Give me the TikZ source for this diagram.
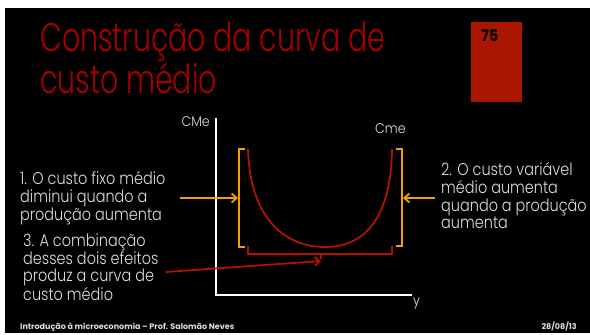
\documentclass[tikz,border=0pt]{standalone}
\usepackage{fontspec}
\usepackage{graphicx}
\setmainfont{Poppins}
\IfFontExistsTF{Poppins Light}{\newfontfamily\thinfont{Poppins Light}}{\newcommand{\thinfont}{}}
\usetikzlibrary{arrows.meta}
\definecolor{titlered}{RGB}{165,0,0}
\definecolor{curvered}{RGB}{178,18,0}
\definecolor{boxred}{RGB}{170,22,0}
\definecolor{bracketorange}{RGB}{240,160,0}
\definecolor{txtgray}{RGB}{222,222,222}
% the slide is squeezed sideways: narrow the text boxes the same way
\newcommand{\squeezed}[2]{\scalebox{#1}[1]{\begin{tabular}[b]{@{}l@{}}#2\end{tabular}}}
\tikzset{
  note/.style={text=txtgray, font=\thinfont\fontsize{17}{17}\selectfont, anchor=base west, inner sep=0pt},
  axislabel/.style={text=txtgray, font=\thinfont\fontsize{14}{15}\selectfont, inner sep=0pt},
  orangearrow/.style={bracketorange, line width=1.8pt, -{Straight Barb[length=5pt,width=9pt]}},
  redarrow/.style={curvered, line width=1.8pt, -{Straight Barb[length=5pt,width=9pt]}},
  footer/.style={text=txtgray, font=\fontsize{8}{9}\selectfont\bfseries, anchor=base west, inner sep=0pt}
}
\begin{document}
\begin{tikzpicture}[x=1pt,y=-1pt]
\useasboundingbox (0,0) rectangle (590,335);
\fill[white] (0,0) rectangle (590,335);
\fill[black] (5,8) rectangle (590,333); %slide
\fill[boxred] (471,22) rectangle (522,102); %page box
\node[font=\fontsize{16}{18}\selectfont\bfseries, inner sep=0pt] (page) at (490,36) {\scalebox{0.9}[1]{75}};
\node[text=titlered, font=\thinfont\fontsize{40}{35}\selectfont, anchor=base west, inner sep=0pt] (title) at (40,93) {\squeezed{0.71}{Construção da curva de\\custo médio}};
% axes
\draw[white, line width=1.8pt] (216,118) -- (216,295) -- (412,295);
\node[axislabel, anchor=base east] (cme) at (210,126) {\scalebox{0.9}[1]{CMe}};
\node[axislabel, anchor=base west] (cmelabel) at (375,133) {\scalebox{0.9}[1]{Cme}};
\node[axislabel, anchor=base west] (ylabel) at (413,305) {\scalebox{0.9}[1]{y}};
% average cost curve
\draw[curvered, line width=1.8pt] (248,149) .. controls (250,222) and (288,247) .. (325,247) .. controls (362,247) and (391,222) .. (392,149);
% brackets
\draw[bracketorange, line width=1.8pt] (245,149) -- (239,149) -- (239,247) -- (245,247); %left
\draw[bracketorange, line width=1.8pt] (396,149) -- (402,149) -- (402,246) -- (396,246); %right
\draw[curvered, line width=1.8pt] (248,246) -- (248,254) -- (392,254) -- (392,246); %bottom
\draw[curvered, line width=1.8pt] (321,254) -- (321,259);
\coordinate (lb) at (238,198);
\coordinate (rb) at (403,198);
\coordinate (bb) at (321,261);
\coordinate (t1) at (180,198);
\coordinate (t2) at (435,198);
\coordinate (t3) at (166,272);
% notes
\node[note] (one) at (20,220) {\squeezed{0.85}{1. O custo fixo médio\\diminui quando a\\produção aumenta}};
\node[note] (two) at (441,228) {\squeezed{0.85}{2. O custo variável\\médio aumenta\\quando a produção\\aumenta}};
\node[note] (three) at (23,300) {\squeezed{0.85}{3. A combinação\\desses dois efeitos\\produz a curva de\\custo médio}};
\draw[orangearrow] (t1) -- (lb);
\draw[orangearrow] (t2) -- (rb);
\draw[redarrow] (t3) -- (bb);
% footer
\node[footer] (foot) at (20,329) {Introdução à microeconomia – Prof. Salomão Neves};
\node[footer, anchor=base east] (date) at (577,329) {28/08/13};
\end{tikzpicture}
\end{document}
